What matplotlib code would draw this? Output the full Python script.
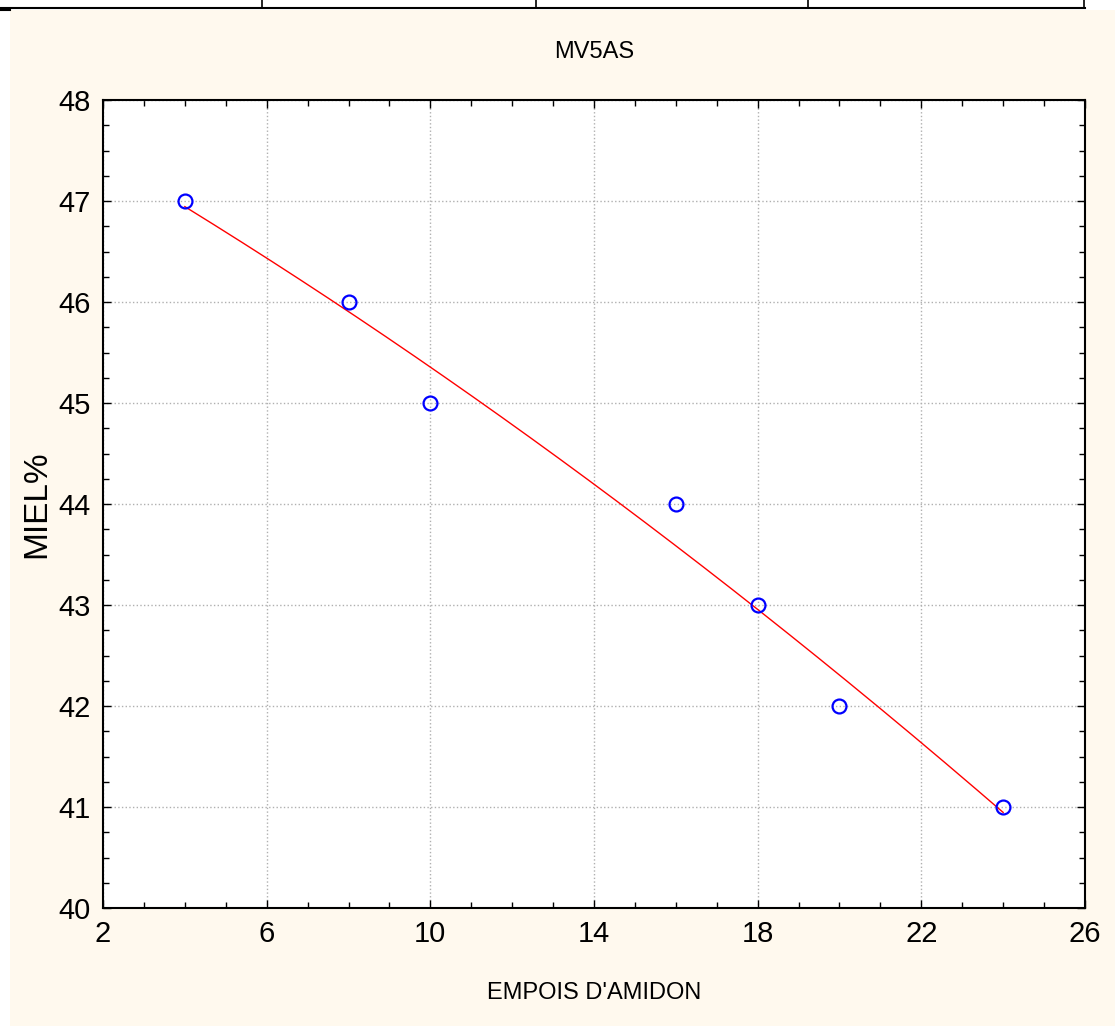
import numpy as np
import matplotlib
matplotlib.use("Agg")
import matplotlib.pyplot as plt
from matplotlib.ticker import MultipleLocator
from matplotlib.lines import Line2D

x_vals = [4, 8, 10, 16, 18, 20, 24]
y_vals = [47, 46, 45, 44, 43, 42, 41]
x_ticks = [2, 6, 10, 14, 18, 22, 26]
y_ticks = [40, 41, 42, 43, 44, 45, 46, 47, 48]
title = "MV5AS"
xlabel = "EMPOIS D'AMIDON"
ylabel = "MIEL%"

plt.rcParams['font.family'] = ['Liberation Sans', 'DejaVu Sans']

W, H = 1115, 1026
fig = plt.figure(figsize=(W / 100, H / 100), dpi=100)
fig.patch.set_facecolor('white')

# cream panel
bg = plt.Rectangle((10 / W, 0), 1 - 10 / W, 1 - 10 / H, transform=fig.transFigure,
                   facecolor='#fff9ee', edgecolor='none', zorder=-10)
fig.patches.append(bg)
# table border remnants at top
fig.lines.append(Line2D([0, 1085 / W], [1 - 8 / H, 1 - 8 / H], transform=fig.transFigure, color='black', lw=1.5))
fig.lines.append(Line2D([0, 10 / W], [1 - 10 / H, 1 - 10 / H], transform=fig.transFigure, color='black', lw=1.5))
for vx in [262, 536, 808, 1084]:
    fig.lines.append(Line2D([vx / W, vx / W], [1 - 8 / H, 1.0], transform=fig.transFigure, color='black', lw=1.2))

ax = fig.add_axes([103 / W, 1 - 908 / H, (1085 - 103) / W, (908 - 100) / H])
ax.set_facecolor('white')

# fitted curve
coef = np.polyfit(x_vals, y_vals, 2)
xf = np.linspace(min(x_vals), max(x_vals), 200)
ax.plot(xf, np.polyval(coef, xf), color='red', lw=1.0, zorder=2)

ax.plot(x_vals, y_vals, linestyle='none', marker='o', markersize=10,
        markerfacecolor='none', markeredgecolor='blue', markeredgewidth=1.6, zorder=3)

ax.set_xlim(2, 26)
ax.set_ylim(40, 48)
ax.set_xticks(x_ticks)
ax.set_yticks(y_ticks)
ax.xaxis.set_minor_locator(MultipleLocator(1))
ax.yaxis.set_minor_locator(MultipleLocator(0.25))
ax.tick_params(which='both', direction='in', top=True, right=True, width=1)
ax.tick_params(which='major', length=6, labelsize=21, pad=9)
ax.tick_params(which='minor', length=4)
ax.grid(True, which='major', linestyle=':', color='#b0b0b0', lw=1)
for s in ax.spines.values():
    s.set_linewidth(1.5)

ax.set_title(title, fontsize=17, pad=30)
ax.set_xlabel(xlabel, fontsize=17, labelpad=24)
ax.set_ylabel(ylabel, fontsize=24, labelpad=4)

fig.savefig('out.png', dpi=100, facecolor=fig.get_facecolor())
